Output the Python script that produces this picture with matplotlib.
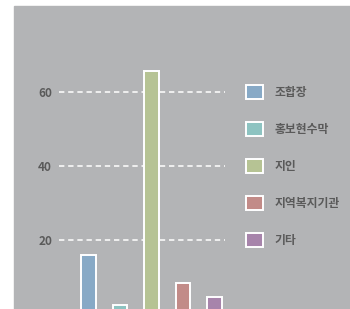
import matplotlib.pyplot as plt
from matplotlib.patches import Rectangle, Patch

# data
categories = ['조합장', '홍보현수막', '지인', '지역복지기관', '기타']
values = [16.0, 2.3, 65.8, 8.5, 4.5]
colors = ['#87a9c6', '#8dc3c1', '#b6c394', '#c28b88', '#a784ab']
yticks = [20, 40, 60]

plt.rcParams['font.family'] = ['Noto Sans CJK KR', 'DejaVu Sans']

fig = plt.figure(figsize=(3.5, 3.09), dpi=100)
fig.patch.set_facecolor('white')
# gray panel behind the chart
fig.patches.append(Rectangle((14/350, 0), 1 - 14/350, (309 - 6)/309,
                             transform=fig.transFigure, color='#b3b4b6', zorder=-5))

# axes placed so y=0 sits just below the bottom edge
ax = fig.add_axes([59/350, -5/309, 166/350, 70*3.7/309])
ax.set_facecolor('none')
x = list(range(len(categories)))
ax.bar(x, values, width=0.47, color=colors, edgecolor='white', linewidth=1.4, zorder=3)
ax.set_xlim(-0.937, 4.333)
ax.set_ylim(0, 70)
ax.set_yticks(yticks)
ax.set_yticklabels([str(t) for t in yticks], fontsize=8.5, color='#5a5a5a', fontweight='bold')
ax.set_xticks([])
ax.tick_params(axis='y', length=0, pad=5)
for t in yticks:
    ax.axhline(t, color='white', lw=1.1, ls=(0, (3.5, 2.5)), zorder=1)
for s in ax.spines.values():
    s.set_visible(False)

handles = [Patch(facecolor=c, edgecolor='white', linewidth=1.4) for c in colors]
leg = fig.legend(handles, categories, loc='upper left', bbox_to_anchor=(240/350, 1 - 79/309),
                 frameon=False, fontsize=8.5, handlelength=1.45, handleheight=1.45,
                 labelspacing=1.95, handletextpad=1.0, borderpad=0)
for t in leg.get_texts():
    t.set_color('#5a5a5a')
    t.set_fontweight('bold')

fig.savefig('out.png', dpi=100)
